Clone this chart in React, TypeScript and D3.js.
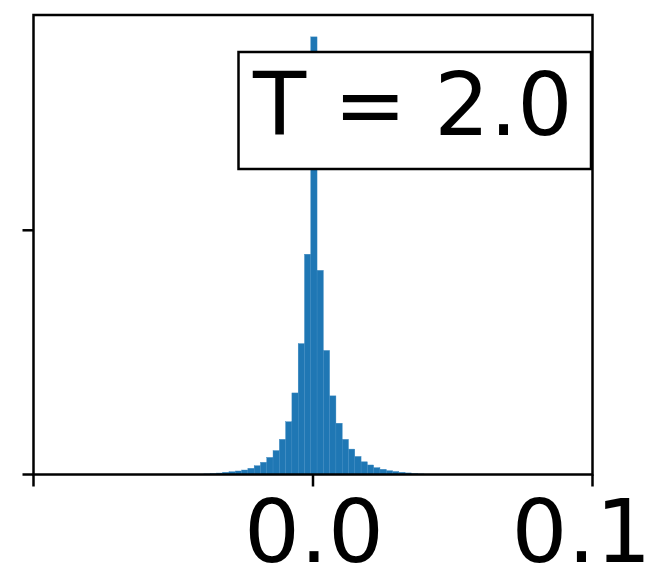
import React from "react";
import * as d3 from "d3";

// Histogram of values at temperature T = 2.0 (density per bin)
const binStart = -0.0413; // left edge of the first bin
const binWidth = 0.00225;
const densities = [
  0.07, 0.12, 0.2, 0.3, 0.45, 0.57, 0.72, 0.92, 1.27, 1.8, 2.5, 3.5, 4.9, 7.2, 10.8, 16.7, 26.8, 45.1,
  89.6,
  41.8, 25.4, 16.1, 10.5, 7.2, 5.2, 3.7, 2.6, 1.95, 1.4, 1.07, 0.78, 0.62, 0.45, 0.32, 0.2, 0.12, 0.07,
];
const xTicks = [-0.1, 0.0, 0.1];
const xTickLabels = ["", "0.0", "0.1"];
const yTicks = [0, 50];
const annotation = "T = 2.0";

const W = 654;
const H = 571;
const margin = { left: 33.5, right: 61.5, top: 15, bottom: 96.5 };

export default function App() {
  const x = d3
    .scaleLinear()
    .domain([-0.1, 0.1])
    .range([margin.left, W - margin.right]);
  const yMax = (d3.max(densities) as number) * 1.05;
  const y = d3
    .scaleLinear()
    .domain([0, yMax])
    .range([H - margin.bottom, margin.top]);

  const bins = densities.map((v, i) => ({
    x0: binStart + i * binWidth,
    x1: binStart + (i + 1) * binWidth,
    v,
  }));

  const font = "'DejaVu Sans', sans-serif";
  const y0 = y(0);
  const stroke = 2.5;

  return (
    <svg
      width={W}
      height={H}
      style={{ position: "absolute", left: 0, top: 0, background: "#fff" }}
    >
      {/* bars */}
      <g>
        {bins.map((b, i) => (
          <rect
            key={i}
            x={x(b.x0)}
            y={y(b.v)}
            width={x(b.x1) - x(b.x0)}
            height={y0 - y(b.v)}
            fill="#1f77b4"
            stroke="#3b88c0"
            strokeWidth={0.4}
          />
        ))}
      </g>

      {/* spines */}
      <rect
        x={x(-0.1)}
        y={margin.top}
        width={x(0.1) - x(-0.1)}
        height={y0 - margin.top}
        fill="none"
        stroke="#000"
        strokeWidth={stroke}
      />

      {/* x ticks */}
      {xTicks.map((t, i) => (
        <g key={i}>
          <line
            x1={x(t)}
            x2={x(t)}
            y1={y0}
            y2={y0 + 12}
            stroke="#000"
            strokeWidth={stroke}
          />
          {xTickLabels[i] && (
            <text
              x={x(t) + (i === xTicks.length - 1 ? -11 : 1)}
              y={y0 + 87}
              textAnchor="middle"
              fontFamily={font}
              fontSize={88}
              fill="#000"
            >
              {xTickLabels[i]}
            </text>
          )}
        </g>
      ))}

      {/* y ticks */}
      {yTicks.map((t, i) => (
        <line
          key={i}
          x1={x(-0.1) - 11}
          x2={x(-0.1)}
          y1={y(t)}
          y2={y(t)}
          stroke="#000"
          strokeWidth={stroke}
        />
      ))}

      {/* annotation box */}
      <rect
        x={238.5}
        y={52}
        width={352.5}
        height={117}
        fill="#fff"
        stroke="#000"
        strokeWidth={stroke}
      />
      <text x={253} y={135} fontFamily={font} fontSize={87} fill="#000">
        {annotation}
      </text>
    </svg>
  );
}
